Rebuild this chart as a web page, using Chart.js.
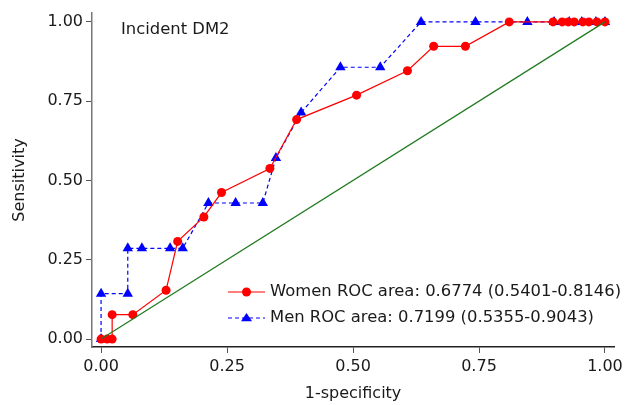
<!DOCTYPE html>
<html>
<head>
<meta charset="utf-8">
<script src="https://cdn.jsdelivr.net/npm/chart.js@4/dist/chart.umd.min.js"></script>
<style>
html,body{margin:0;padding:0;background:#fff;}
#wrap{width:627px;height:405px;position:relative;}
</style>
</head>
<body>
<div id="wrap"><canvas id="c" width="627" height="405"></canvas></div>
<script>
// ---- data ----
const womenFPR = [0, 0.012, 0.022, 0.022, 0.063, 0.129, 0.152, 0.204, 0.239, 0.335, 0.388, 0.507, 0.608, 0.660, 0.723, 0.810, 0.897, 0.915, 0.927, 0.939, 0.956, 0.968, 0.984, 1.0];
const womenTPR = [0, 0, 0, 0.077, 0.077, 0.154, 0.308, 0.385, 0.462, 0.538, 0.692, 0.769, 0.846, 0.923, 0.923, 1, 1, 1, 1, 1, 1, 1, 1, 1];
const menFPR = [0, 0, 0.053, 0.053, 0.081, 0.137, 0.162, 0.213, 0.267, 0.321, 0.347, 0.397, 0.475, 0.554, 0.635, 0.743, 0.846, 0.899, 0.929, 0.954, 0.982, 1.0];
const menTPR = [0, 0.143, 0.143, 0.286, 0.286, 0.286, 0.286, 0.429, 0.429, 0.429, 0.571, 0.714, 0.857, 0.857, 1, 1, 1, 1, 1, 1, 1, 1];
const refX = [0, 1];
const refY = [0, 1];
const tickValues = [0, 0.25, 0.5, 0.75, 1];
const seriesLabels = ['Women ROC area: 0.6774 (0.5401-0.8146)', 'Men ROC area: 0.7199 (0.5355-0.9043)'];
const panelTitle = 'Incident DM2';

const FONT = '"DejaVu Sans", sans-serif';
const zip = (xs, ys) => xs.map((x, i) => ({x: x, y: ys[i]}));

function drawMarker(ctx, style, x, y, r, color) {
  ctx.save();
  ctx.fillStyle = color;
  ctx.beginPath();
  if (style === 'circle') {
    ctx.arc(x, y, r, 0, Math.PI * 2);
  } else {
    const h = r * 1.5;
    ctx.moveTo(x, y - h * 0.62);
    ctx.lineTo(x + r, y + h * 0.38);
    ctx.lineTo(x - r, y + h * 0.38);
    ctx.closePath();
  }
  ctx.fill();
  ctx.restore();
}

const overlay = {
  id: 'overlay',
  afterDraw(chart) {
    const ctx = chart.ctx;
    const ca = chart.chartArea;
    ctx.save();
    ctx.font = '16.4px ' + FONT;
    ctx.fillStyle = '#1a1a1a';
    ctx.textBaseline = 'middle';
    ctx.textAlign = 'left';
    ctx.fillText(panelTitle, ca.left + 29, ca.top + 17);
    const rows = [
      {ds: chart.data.datasets[1], y: ca.bottom - 55, style: 'circle', r: 4.5},
      {ds: chart.data.datasets[2], y: ca.bottom - 29, style: 'triangle', r: 5.5}
    ];
    rows.forEach((row, i) => {
      const x0 = ca.left + 136, x1 = ca.left + 173;
      ctx.save();
      ctx.strokeStyle = row.ds.borderColor;
      ctx.lineWidth = row.ds.borderWidth;
      ctx.setLineDash(row.ds.borderDash || []);
      ctx.beginPath();
      ctx.moveTo(x0, row.y);
      ctx.lineTo(x1, row.y);
      ctx.stroke();
      ctx.restore();
      drawMarker(ctx, row.style, (x0 + x1) / 2, row.y, row.r, row.ds.backgroundColor);
      ctx.fillStyle = '#1a1a1a';
      ctx.fillText(seriesLabels[i], x1 + 5, row.y);
    });
    ctx.restore();
  }
};

const axisCommon = {
  type: 'linear',
  grid: {display: true, drawOnChartArea: false, drawTicks: true, tickLength: 6, color: '#555', lineWidth: 1},
  border: {display: true, color: '#777', width: 1.5},
  afterBuildTicks(scale) { scale.ticks = tickValues.map(v => ({value: v})); },
};

new Chart(document.getElementById('c'), {
  type: 'scatter',
  data: {
    datasets: [
      {label: 'ref', data: zip(refX, refY), showLine: true, borderColor: '#1f7a1f', borderWidth: 1.2, pointRadius: 0, backgroundColor: '#1f7a1f'},
      {label: 'Women', data: zip(womenFPR, womenTPR), showLine: true, borderColor: '#ff0000', backgroundColor: '#ff0000', borderWidth: 1.2, pointStyle: 'circle', pointRadius: 4.5, pointBorderWidth: 0, pointBackgroundColor: '#ff0000'},
      {label: 'Men', data: zip(menFPR, menTPR), showLine: true, borderColor: '#0000ff', backgroundColor: '#0000ff', borderWidth: 1.2, borderDash: [4, 3], pointStyle: 'triangle', pointRadius: 6, pointBorderWidth: 0, pointBackgroundColor: '#0000ff'}
    ]
  },
  options: {
    responsive: false,
    animation: false,
    devicePixelRatio: 1,
    layout: {padding: {left: 0, right: 12, top: 13, bottom: 0}},
    plugins: {legend: {display: false}, tooltip: {enabled: false}},
    scales: {
      x: Object.assign({}, axisCommon, {
        min: -0.018, max: 1.018,
        border: {display: true, color: '#222', width: 1.5},
        ticks: {font: {family: FONT, size: 16}, color: '#1a1a1a', padding: 4, maxRotation: 0, callback: v => v.toFixed(2)},
        title: {display: true, text: '1-specificity', font: {family: FONT, size: 16}, color: '#1a1a1a', padding: {top: 4, bottom: 2}},
        afterFit(scale) { scale.height = 58; }
      }),
      y: Object.assign({}, axisCommon, {
        min: -0.025, max: 1.028,
        ticks: {font: {family: FONT, size: 16}, color: '#1a1a1a', padding: 3, callback: v => v.toFixed(2)},
        title: {display: true, text: 'Sensitivity', font: {family: FONT, size: 16}, color: '#1a1a1a', padding: {top: 10, bottom: 4}},
        afterFit(scale) { scale.width = 92; }
      })
    }
  },
  plugins: [overlay]
});
</script>
</body>
</html>
